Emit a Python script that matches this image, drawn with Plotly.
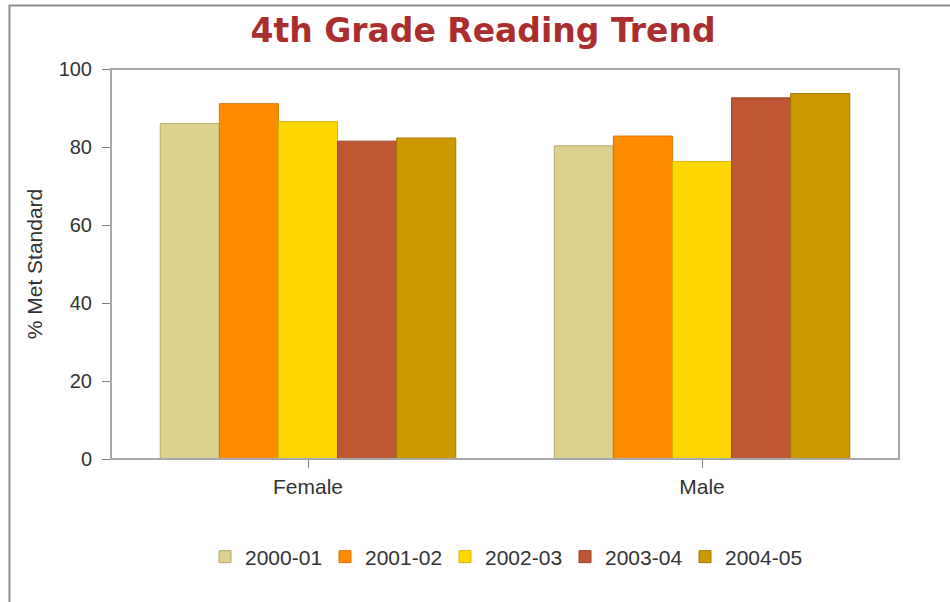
import plotly.graph_objects as go

categories = ["Female", "Male"]
years = ["2000-01", "2001-02", "2002-03", "2003-04", "2004-05"]
v_2000_01 = [86.0, 80.3]
v_2001_02 = [91.1, 82.8]
v_2002_03 = [86.5, 76.3]
v_2003_04 = [81.5, 92.6]
v_2004_05 = [82.3, 93.7]
series_values = [v_2000_01, v_2001_02, v_2002_03, v_2003_04, v_2004_05]
y_ticks = [0, 20, 40, 60, 80, 100]

fill_colors = ["#DCD18E", "#FF8C00", "#FFD700", "#BF5734", "#CC9900"]
line_colors = ["#B3A86A", "#D87400", "#D6B400", "#9A4428", "#A37A00"]

W, H = 950, 602
ML, MR, MT, MB = 111, 51, 69, 143
pw = W - ML - MR
ph = H - MT - MB

fig = go.Figure()
for name, vals, fc, lc in zip(years, series_values, fill_colors, line_colors):
    fig.add_trace(go.Bar(
        name=name, x=categories, y=vals,
        marker=dict(color=fc, line=dict(color=lc, width=1)),
    ))

def px_x(p):
    return (p - ML) / pw

def px_y(p):
    return (H - MB - p) / ph

# outer frame (partially cut off at right and bottom)
fig.add_shape(type="rect", xref="paper", yref="paper",
              x0=px_x(9.5), x1=px_x(960), y0=px_y(615), y1=px_y(5.5),
              line=dict(color="#8C8C8C", width=2), layer="below")
# plot frame (top / right)
fig.add_shape(type="rect", xref="paper", yref="paper",
              x0=0, x1=1, y0=0, y1=1,
              line=dict(color="#A8A8A8", width=2), layer="above")

fig.update_layout(
    width=W, height=H,
    margin=dict(l=ML, r=MR, t=MT, b=MB, pad=0),
    paper_bgcolor="white", plot_bgcolor="white",
    barmode="group", bargap=0.25, bargroupgap=0,
    title=dict(text="<b>4th Grade Reading Trend</b>",
               font=dict(family="DejaVu Sans", size=33, color="#AB2E2E"),
               x=483 / W, xanchor="center", xref="container",
               y=1 - 30 / H, yanchor="middle", yref="container"),
    font=dict(family="Liberation Sans, Arial", size=20, color="#333333"),
    legend=dict(orientation="h", x=px_x(205), xanchor="left",
                y=px_y(557), yanchor="middle",
                entrywidth=75, entrywidthmode="pixels",
                font=dict(size=21, color="#333333"),
                bgcolor="rgba(0,0,0,0)"),
    showlegend=True,
)
fig.update_xaxes(
    showline=True, linecolor="#808080", linewidth=1,
    ticks="outside", ticklen=8, tickcolor="#808080",
    showgrid=False, zeroline=False,
    tickfont=dict(size=21, color="#333333"),
    ticklabelstandoff=1,
)
fig.update_yaxes(
    range=[0, 100], tickvals=y_ticks,
    showline=True, linecolor="#808080", linewidth=1,
    ticks="outside", ticklen=8, tickcolor="#808080",
    showgrid=False, zeroline=False,
    tickfont=dict(size=20, color="#333333"),
    ticklabelstandoff=6,
    title=dict(text="% Met Standard", font=dict(size=21, color="#333333"), standoff=10),
)

fig.write_html("out.html", config={"displayModeBar": False},
               post_script="document.body.style.margin='0';")
